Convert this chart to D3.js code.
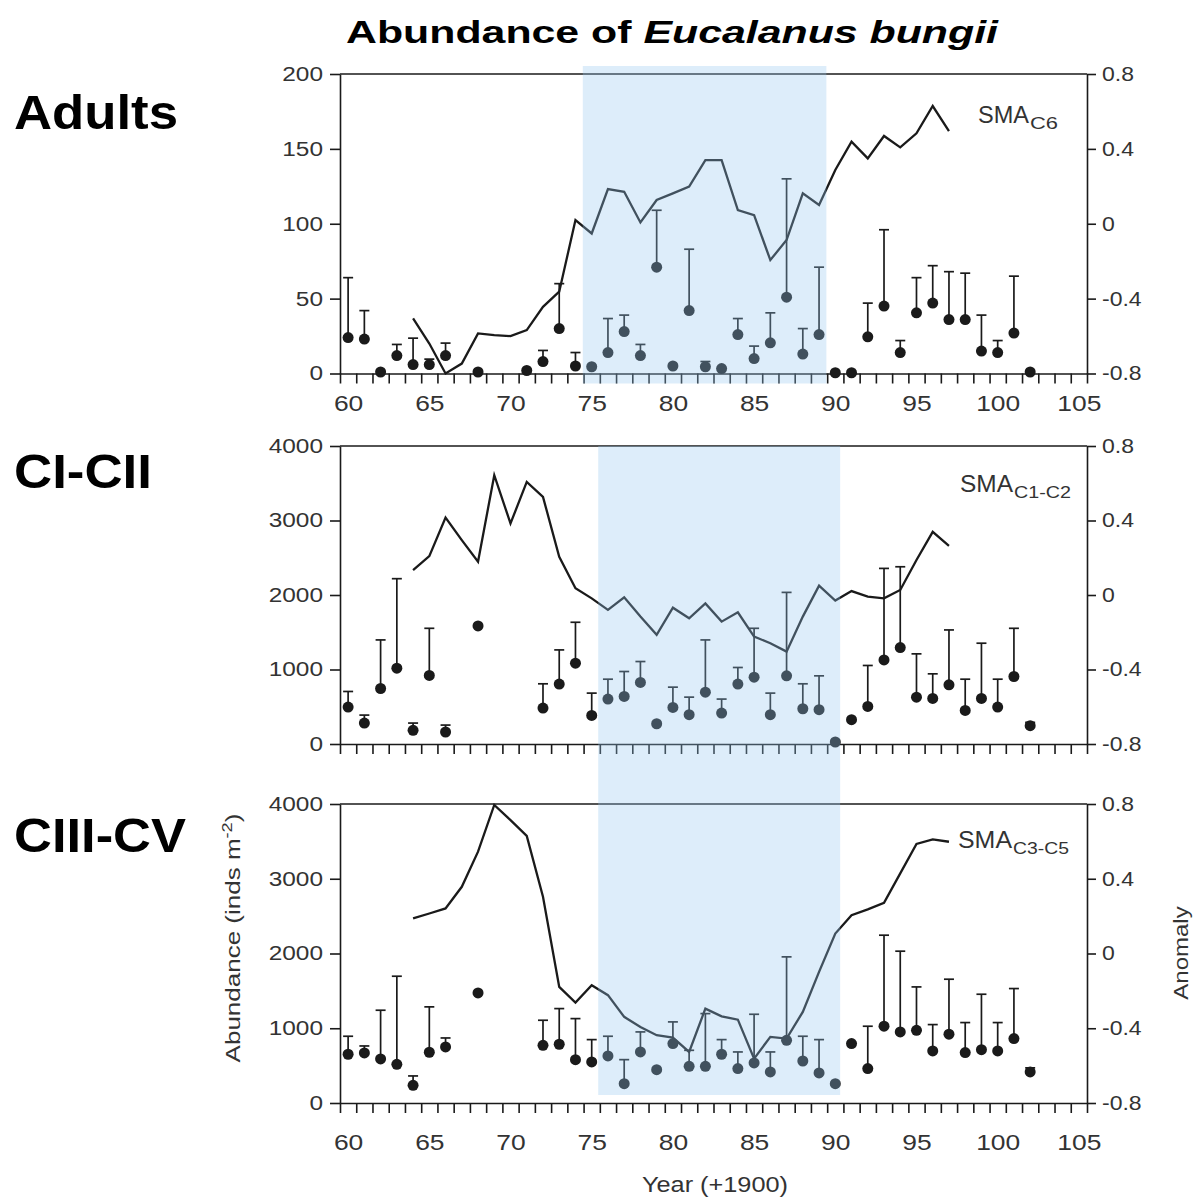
<!DOCTYPE html>
<html>
<head>
<meta charset="utf-8">
<script src="https://cdn.jsdelivr.net/npm/d3@7"></script>
<style>
  body { margin: 0; background: #fff; }
  svg { display: block; }
  text { font-family: "Liberation Sans", Arial, sans-serif; }
</style>
</head>
<body>
<script>
// ---- data ----
var lineYears = d3.range(64, 98);   // 1964..1997, SMA anomaly series

var adultYears = [60,61,62,63,64,65,66,68,71,72,73,74,75,76,77,78,79,80,81,82,83,84,85,86,87,88,89,90,91,92,93,94,95,96,97,98,99,100,101,102];
var adultMean  = [24,23,1,12,6,6,12,1,2,8,30,5,4.5,14,28,12,71,5,42,4.5,3.3,26,10,20.5,51,13,26,0.5,0.5,24.5,45,14,40.5,47,36,36,15,14,27,1];
var adultUpper = [64,42,null,19.4,23.6,9.6,20.3,null,null,15.4,60,14,null,36.7,39,19.4,109,null,83,8,null,36.7,18.3,40.5,130,30,71,null,null,47,96,22,64,72,68,67,39,22,65,null];
var adultAnomaly = [-0.506,-0.64,-0.8,-0.747,-0.586,-0.595,-0.6,-0.568,-0.444,-0.363,
                    0.02,-0.052,0.185,0.171,0.007,0.127,0.162,0.198,0.34,0.34,
                    0.073,0.046,-0.194,-0.087,0.162,0.1,0.287,0.438,0.349,0.469,
                    0.408,0.483,0.629,0.495];

var c12Years = [60,61,62,63,64,65,66,68,72,73,74,75,76,77,78,79,80,81,82,83,84,85,86,87,88,89,90,91,92,93,94,95,96,97,98,99,100,101,102];
var c12Mean  = [495,281,745,1018,183,920,161,1585,482,804,1085,384,603,638,826,272,491,393,696,415,804,897,393,915,473,460,27,326,504,1129,1295,629,612,795,451,612,495,906,246];
var c12Upper = [705,388,1397,2219,281,1553,254,null,808,1263,1634,683,870,973,1107,null,763,629,1397,603,1027,1553,683,2035,808,915,null,null,1054,2357,2379,1210,942,1531,870,1353,870,1553,290];
var c12Anomaly = [0.134,0.209,0.416,0.295,0.179,0.643,0.384,0.607,0.527,0.205,
                  0.036,-0.018,-0.08,-0.012,-0.116,-0.214,-0.068,-0.125,-0.045,-0.143,
                  -0.093,-0.223,-0.259,-0.304,-0.116,0.05,-0.03,0.021,-0.009,-0.018,
                  0.027,0.188,0.339,0.264];

var c35Years = [60,61,62,63,64,65,66,68,72,73,74,75,76,77,78,79,80,81,82,83,84,85,86,87,88,89,90,91,92,93,94,95,96,97,98,99,100,101,102];
var c35Mean  = [652,670,589,518,237,679,750,1473,772,786,580,549,629,259,683,446,795,491,491,652,460,536,415,839,562,402,259,795,460,1027,951,973,696,920,674,714,696,862,415];
var c35Upper = [893,763,1241,1696,362,1286,870,null,1107,1263,1129,848,893,580,951,null,1085,705,1196,848,683,1187,683,1955,893,848,null,null,1027,2245,2031,1553,1049,1656,1076,1455,1076,1531,470];
var c35Anomaly = [0.1875,0.214,0.241,0.357,0.545,0.795,0.714,0.629,0.304,-0.179,
                  -0.2625,-0.17,-0.223,-0.339,-0.393,-0.4375,-0.45,-0.527,-0.295,-0.336,
                  -0.354,-0.5625,-0.446,-0.455,-0.3125,-0.098,0.107,0.205,0.236,0.271,
                  0.429,0.586,0.611,0.598];

var adultTicks = [0, 50, 100, 150, 200];
var copeTicks = [0, 1000, 2000, 3000, 4000];
var anomalyTicks = [-0.8, -0.4, 0, 0.4, 0.8];
var yearLabels = d3.range(60, 106, 5);
var shadeAdults = [74.45, 89.45];
var shadeCope = [75.4, 90.3];

// ---- setup ----
var width = 1194, height = 1197;
var ink = "#1a1a1a";
var svg = d3.select("body").append("svg")
    .attr("width", width)
    .attr("height", height);

var x = d3.scaleLinear().domain([59.5, 105.5]).range([340, 1087]);

function stretch(sel, k) {
    sel.each(function () {
        var w = this.getComputedTextLength();
        d3.select(this).attr("textLength", w * k).attr("lengthAdjust", "spacingAndGlyphs");
    });
}

var panels = [
    {label: "Adults", labelY: 129, labelW: 164, top: 74, bottom: 373.5, ticks: adultTicks,
     years: adultYears, mean: adultMean, upper: adultUpper, anomaly: adultAnomaly,
     sub: "C6", smaX: 978, smaY: 123, smaW: 51, subW: 28, yearAxis: 22},
    {label: "CI-CII", labelY: 488, labelW: 138, top: 446, bottom: 744, ticks: copeTicks,
     years: c12Years, mean: c12Mean, upper: c12Upper, anomaly: c12Anomaly,
     sub: "C1-C2", smaX: 960, smaY: 492, smaW: 53, subW: 57, yearAxis: null},
    {label: "CIII-CV", labelY: 852, labelW: 172, top: 804, bottom: 1103, ticks: copeTicks,
     years: c35Years, mean: c35Mean, upper: c35Upper, anomaly: c35Anomaly,
     sub: "C3-C5", smaX: 958, smaY: 848, smaW: 54, subW: 56, yearAxis: 31}
];

function drawPanel(p) {
    var g = svg.append("g");
    var y = d3.scaleLinear().domain([0, d3.max(p.ticks)]).range([p.bottom, p.top]);
    var yA = d3.scaleLinear().domain([-0.8, 0.8]).range([p.bottom, p.top]);

    // frame: top line
    g.append("line")
        .attr("x1", x.range()[0]).attr("x2", x.range()[1])
        .attr("y1", p.top).attr("y2", p.top)
        .attr("stroke", ink).attr("stroke-width", 1.6);

    // left axis
    var left = g.append("g").attr("transform", "translate(" + x.range()[0] + ",0)")
        .call(d3.axisLeft(y).tickValues(p.ticks).tickSize(10).tickSizeOuter(0).tickPadding(7)
            .tickFormat(function (d) { return String(d); }));
    // right axis
    var right = g.append("g").attr("transform", "translate(" + x.range()[1] + ",0)")
        .call(d3.axisRight(yA).tickValues(anomalyTicks).tickSize(9).tickSizeOuter(0).tickPadding(6)
            .tickFormat(function (d) { return String(d); }));
    // bottom axis: year ticks between labels
    var bottom = g.append("g").attr("transform", "translate(0," + p.bottom + ")")
        .call(d3.axisBottom(x).tickValues(d3.range(59.5, 106, 1)).tickSize(10).tickSizeOuter(0).tickFormat(""));

    [left, right, bottom].forEach(function (a) {
        a.selectAll("path, line").attr("stroke", ink).attr("stroke-width", 1.6);
        a.selectAll("text").attr("fill", "#333").attr("font-size", 20)
            .attr("font-family", "Liberation Sans, Arial, sans-serif");
    });
    stretch(left.selectAll("text"), 1.22);
    stretch(right.selectAll("text"), 1.15);

    if (p.yearAxis !== null) {
        var lab = g.append("g").attr("transform", "translate(0," + p.bottom + ")")
            .call(d3.axisBottom(x).tickValues(yearLabels).tickSize(0).tickPadding(p.yearAxis));
        lab.select(".domain").remove();
        lab.selectAll("text").attr("fill", "#333").attr("font-size", 22)
            .attr("font-family", "Liberation Sans, Arial, sans-serif");
        stretch(lab.selectAll("text"), 1.2);
    }

    // anomaly line
    var line = d3.line()
        .x(function (d, i) { return x(lineYears[i]); })
        .y(function (d) { return yA(d); });
    g.append("path")
        .datum(p.anomaly)
        .attr("d", line)
        .attr("fill", "none")
        .attr("stroke", ink)
        .attr("stroke-width", 2.3)
        .attr("stroke-linejoin", "miter");

    // error bars (upward only) + means
    var pts = p.years.map(function (yr, i) { return {year: yr, mean: p.mean[i], upper: p.upper[i]}; });
    var bars = pts.filter(function (d) { return d.upper !== null; });
    g.selectAll(".bar").data(bars).enter().append("line")
        .attr("x1", function (d) { return x(d.year); })
        .attr("x2", function (d) { return x(d.year); })
        .attr("y1", function (d) { return y(d.mean); })
        .attr("y2", function (d) { return y(d.upper); })
        .attr("stroke", ink).attr("stroke-width", 1.7);
    g.selectAll(".cap").data(bars).enter().append("line")
        .attr("x1", function (d) { return x(d.year) - 5; })
        .attr("x2", function (d) { return x(d.year) + 5; })
        .attr("y1", function (d) { return y(d.upper); })
        .attr("y2", function (d) { return y(d.upper); })
        .attr("stroke", ink).attr("stroke-width", 1.7);
    g.selectAll(".dot").data(pts).enter().append("circle")
        .attr("cx", function (d) { return x(d.year); })
        .attr("cy", function (d) { return y(d.mean); })
        .attr("r", 5.5)
        .attr("fill", ink);

    // SMA label
    var sma = g.append("text").attr("x", p.smaX).attr("y", p.smaY)
        .attr("font-size", 23).attr("fill", "#333").text("SMA");
    stretch(sma, p.smaW / sma.node().getComputedTextLength());
    var sub = g.append("text").attr("x", p.smaX + p.smaW + 1).attr("y", p.smaY + 6)
        .attr("font-size", 17).attr("fill", "#333").text(p.sub);
    stretch(sub, p.subW / sub.node().getComputedTextLength());

    // panel name
    var name = svg.append("text").attr("x", 14).attr("y", p.labelY)
        .attr("font-size", 48).attr("font-weight", "bold").attr("fill", "#000").text(p.label);
    stretch(name, p.labelW / name.node().getComputedTextLength());
}

panels.forEach(drawPanel);

// shaded period, drawn over the marks
svg.append("rect")
    .attr("x", x(shadeAdults[0]))
    .attr("width", x(shadeAdults[1]) - x(shadeAdults[0]))
    .attr("y", panels[0].top - 8)
    .attr("height", panels[0].bottom - panels[0].top + 18)
    .attr("fill", "rgb(150,200,240)")
    .attr("fill-opacity", 0.32);
svg.append("rect")
    .attr("x", x(shadeCope[0]))
    .attr("width", x(shadeCope[1]) - x(shadeCope[0]))
    .attr("y", panels[1].top)
    .attr("height", panels[2].bottom - 8 - panels[1].top)
    .attr("fill", "rgb(150,200,240)")
    .attr("fill-opacity", 0.32);

// title
var title = svg.append("text").attr("x", 346).attr("y", 43)
    .attr("font-size", 31).attr("font-weight", "bold").attr("fill", "#000");
title.append("tspan").text("Abundance of ");
title.append("tspan").attr("font-style", "italic").text("Eucalanus bungii");
title.attr("textLength", 652).attr("lengthAdjust", "spacingAndGlyphs");

// axis titles
var yt = svg.append("text")
    .attr("transform", "translate(240,938) rotate(-90) scale(1.3,1)")
    .attr("text-anchor", "middle")
    .attr("font-size", 20).attr("fill", "#333");
yt.append("tspan").text("Abundance (inds m");
yt.append("tspan").attr("font-size", 14).attr("dy", -8).text("-2");
yt.append("tspan").attr("dy", 8).text(")");

svg.append("text")
    .attr("transform", "translate(1188,953) rotate(-90) scale(1.2,1)")
    .attr("text-anchor", "middle")
    .attr("font-size", 20).attr("fill", "#333")
    .text("Anomaly");

var xt = svg.append("text").attr("x", 715).attr("y", 1192)
    .attr("text-anchor", "middle").attr("font-size", 22).attr("fill", "#333")
    .text("Year (+1900)");
stretch(xt, 1.15);
</script>
</body>
</html>
